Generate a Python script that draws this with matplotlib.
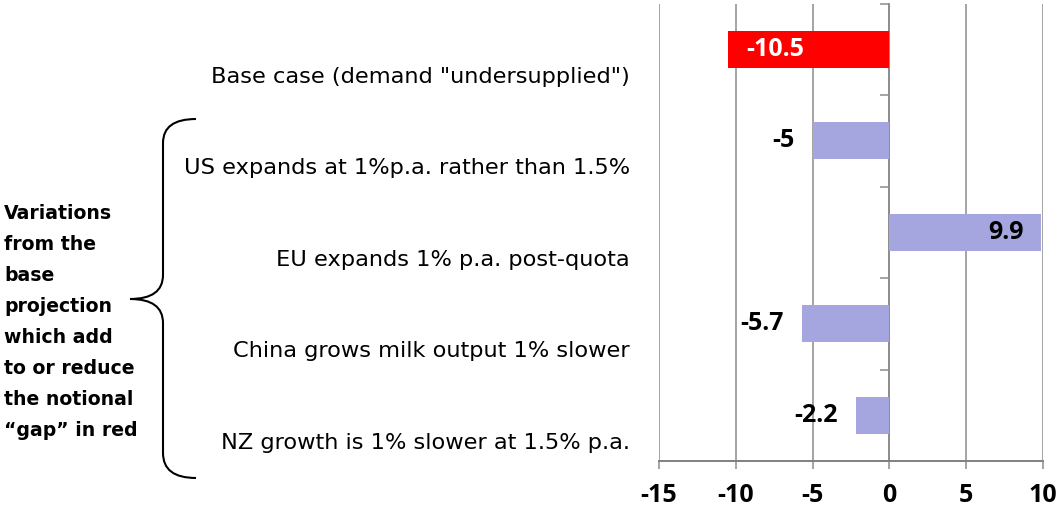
import numpy as np
import matplotlib
matplotlib.use('Agg')
import matplotlib.pyplot as plt
from matplotlib.path import Path
from matplotlib.patches import PathPatch

# data
scenarios = ['Base case (demand "undersupplied")',
             'US expands at 1%p.a. rather than 1.5%',
             'EU expands 1% p.a. post-quota',
             'China grows milk output 1% slower',
             'NZ growth is 1% slower at 1.5% p.a.']
values = [-10.5, -5, 9.9, -5.7, -2.2]
bar_colors = ['#FF0000', '#A5A5DF', '#A5A5DF', '#A5A5DF', '#A5A5DF']
label_inside = [True, False, True, False, False]
label_colors = ['white', 'black', 'black', 'black', 'black']
xticks = [-15, -10, -5, 0, 5, 10]
side_note = ['Variations', 'from the', 'base', 'projection', 'which add',
             'to or reduce', 'the notional', '\u201cgap\u201d in red']

W, H = 1056, 515
fig = plt.figure(figsize=(W / 100, H / 100), dpi=100)
ax = fig.add_axes([659 / W, 54 / H, 384 / W, 457.5 / H])

grey = '#8c8c8c'
num_font = dict(fontfamily='Open Sans', fontweight='bold', fontsize=18)
ypos = np.arange(len(values))
ax.barh(ypos, values, height=0.40, color=bar_colors, zorder=3)
ax.set_xlim(-15, 10)
ax.set_ylim(len(values) - 0.5, -0.5)

# vertical grid
ax.set_xticks(xticks)
ax.xaxis.grid(True, color=grey, linewidth=1.1, zorder=0)
ax.set_xticklabels([str(t) for t in xticks], **num_font)
ax.tick_params(axis='x', length=6, width=1.1, color=grey, pad=10)

# category axis sits at zero
for s in ['top', 'right']:
    ax.spines[s].set_visible(False)
ax.spines['bottom'].set_color('#808080')
ax.spines['bottom'].set_linewidth(1.4)
ax.spines['left'].set_position(('data', 0))
ax.spines['left'].set_color(grey)
ax.spines['left'].set_linewidth(1.3)
ax.set_yticks(np.arange(-0.5, len(values), 1.0))
ax.set_yticklabels([])
ax.tick_params(axis='y', length=6.5, width=1.1, color=grey, direction='out')

# value labels
for i, v in enumerate(values):
    off = 13 if v < 0 else -13
    if not label_inside[i]:
        off = -off
    ha = 'left' if off > 0 else 'right'
    ax.annotate(str(v), xy=(v, i), xytext=(off, 0), textcoords='offset points',
                ha=ha, va='center', color=label_colors[i], zorder=4, **num_font)

# category labels (right aligned, left of the plot)
for i, name in enumerate(scenarios):
    ax.annotate(name, xy=(0, i), xycoords=('axes fraction', 'data'),
                xytext=(-21, -24), textcoords='offset points',
                ha='right', va='baseline', fontfamily='DejaVu Sans',
                fontsize=16.2, color='black', annotation_clip=False)

# side note
for k, line in enumerate(side_note):
    fig.text(4 / W, 1 - (219 + 31 * k) / H, line, ha='left', va='baseline',
             fontfamily='DejaVu Sans', fontweight='bold', fontsize=13.6)

# brace
def px(x, y):
    return (x / W, 1 - y / H)

verts = [px(196, 119), px(163, 119), px(163, 143),
         px(163, 275),
         px(163, 299), px(130, 299),
         px(163, 299), px(163, 323),
         px(163, 453),
         px(163, 478), px(196, 478)]
codes = [Path.MOVETO, Path.CURVE3, Path.CURVE3,
         Path.LINETO,
         Path.CURVE3, Path.CURVE3,
         Path.CURVE3, Path.CURVE3,
         Path.LINETO,
         Path.CURVE3, Path.CURVE3]
fig.patches.append(PathPatch(Path(verts, codes), transform=fig.transFigure,
                             facecolor='none', edgecolor='black', linewidth=1.5))

fig.savefig('out.png', dpi=100)
